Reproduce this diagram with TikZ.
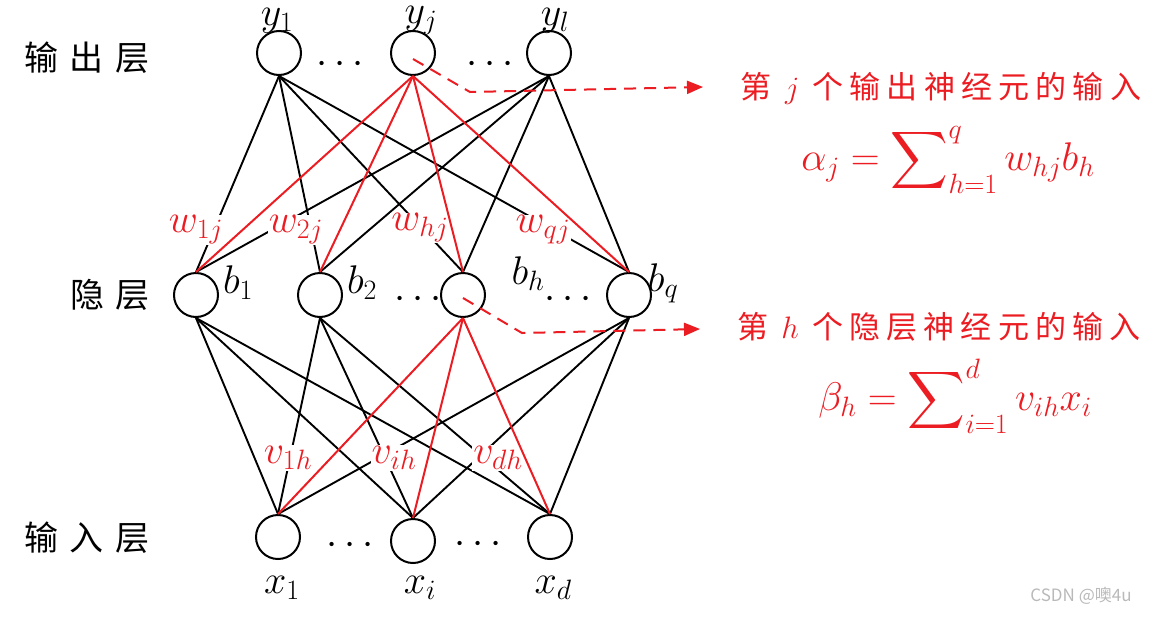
\RequirePackage{fix-cm}
\documentclass[tikz,border=0pt]{standalone}
\usepackage{fontspec}
\usetikzlibrary{arrows.meta}
% let the large operators scale with the font size
\DeclareFontShape{OMX}{cmex}{m}{n}{<->cmex10}{}
\newfontfamily\cjk{Noto Sans CJK SC}
\newfontfamily\cjklayer[LetterSpace=33]{Noto Sans CJK SC}
\newfontfamily\cjknote[LetterSpace=20]{Noto Sans CJK SC}
\definecolor{nnred}{RGB}{235,28,34}
\definecolor{markgray}{RGB}{185,185,185}
\begin{document}
\begin{tikzpicture}[x=1pt,y=-1pt,
  neuron/.style={circle,draw,line width=2pt,minimum size=44pt,inner sep=0pt},
  link/.style={line width=1.9pt},
  hot/.style={line width=2pt,draw=nnred},
  weight/.style={text=nnred,fill=white,inner sep=1pt,font=\fontsize{40}{42}\selectfont},
  unitname/.style={inner sep=0pt,font=\fontsize{40}{44}\selectfont},
  dotsep/.style={inner sep=0pt,font=\fontsize{40}{44}\selectfont},
  layer/.style={inner sep=0pt,font=\fontsize{34}{38}\selectfont\cjklayer},
  note/.style={inner sep=0pt,text=nnred,font=\fontsize{31}{36}\selectfont\cjknote},
  formula/.style={inner sep=0pt,text=nnred,anchor=base,font=\fontsize{40}{44}\selectfont},
  pointer/.style={draw=nnred,line width=2pt,dash pattern=on 12pt off 8pt,
    -{Triangle[length=16pt,width=13pt]}}
]
\useasboundingbox (0,0) rectangle (1151,616);

% layer names
\node[layer] (lout) at (87,58) {输出层};
\node[layer] (lhid) at (110,295) {隐层};
\node[layer] (lin) at (87,538) {输入层};

% output layer
\node[neuron] (y1) at (279,53) {};
\node[neuron] (yj) at (413,53) {};
\node[neuron] (yl) at (549,53) {};
% hidden layer
\node[neuron] (b1) at (196,295) {};
\node[neuron] (b2) at (320,295) {};
\node[neuron] (bh) at (463,295) {};
\node[neuron] (bq) at (629,295) {};
% input layer
\node[neuron] (x1) at (278,537) {};
\node[neuron] (xi) at (413,541) {};
\node[neuron] (xd) at (550,537) {};

% unit names
\node[unitname] (ny1) at (277,21) {$y_1$};
\node[unitname] (nyj) at (421,21) {$y_j$};
\node[unitname] (nyl) at (555,21) {$y_l$};
\node[unitname] (nb1) at (238,283) {$b_1$};
\node[unitname] (nb2) at (362,283) {$b_2$};
\node[unitname] (nbh) at (528,274) {$b_h$};
\node[unitname] (nbq) at (663,283) {$b_q$};
\node[unitname] (nx1) at (282,588) {$x_1$};
\node[unitname] (nxi) at (420,588) {$x_i$};
\node[unitname] (nxd) at (553,588) {$x_d$};

% ellipses between units
\node[dotsep] (d1) at (340,65) {$\cdots$};
\node[dotsep] (d2) at (490,65) {$\cdots$};
\node[dotsep] (d3) at (418,300) {$\cdots$};
\node[dotsep] (d4) at (568,300) {$\cdots$};
\node[dotsep] (d5) at (350,546) {$\cdots$};
\node[dotsep] (d6) at (478,545) {$\cdots$};

% plain connections
\foreach \o in {y1,yl}
  \foreach \h in {b1,b2,bh,bq}
    \draw[link] (\o.south) -- (\h.north);
\foreach \h in {b1,b2,bq}
  \foreach \i in {x1,xi,xd}
    \draw[link] (\h.south) -- (\i.north);

% weight labels
\node[weight] (w1j) at (196,230) {$w_{1j}$};
\node[weight] (w2j) at (296,230) {$w_{2j}$};
\node[weight] (whj) at (420,228) {$w_{hj}$};
\node[weight] (wqj) at (543,230) {$w_{qj}$};
\node[weight] (v1h) at (288,458) {$v_{1h}$};
\node[weight] (vih) at (394,458) {$v_{ih}$};
\node[weight] (vdh) at (498,458) {$v_{dh}$};

% highlighted connections
\foreach \h in {b1,b2,bh,bq}
  \draw[hot] (yj.south) -- (\h.north);
\foreach \i in {x1,xi,xd}
  \draw[hot] (bh.south) -- (\i.north);

% annotations
\coordinate (k1) at (470,92);
\coordinate (a1) at (703,87);
\coordinate (k2) at (522,333);
\coordinate (a2) at (700,329);
\draw[pointer] ([yshift=-6pt]yj.center) -- (k1) -- (a1);
\draw[pointer] ([yshift=-3pt]bh.center) -- (k2) -- (a2);

\node[note] (t1) at (941,88) {第 $j$ 个输出神经元的输入};
\node[formula] (f1) at (948,170) {$\displaystyle \alpha_j=\sum\nolimits_{h=1}^{q} w_{hj}b_h$};
\node[note] (t2) at (939,327) {第 $h$ 个隐层神经元的输入};
\node[formula] (f2) at (955,410) {$\displaystyle \beta_h=\sum\nolimits_{i=1}^{d} v_{ih}x_i$};

\node[inner sep=0pt,text=markgray,font=\fontsize{17}{20}\selectfont\cjk] (mark) at (1081,596) {CSDN @噢4u};
\end{tikzpicture}
\end{document}
